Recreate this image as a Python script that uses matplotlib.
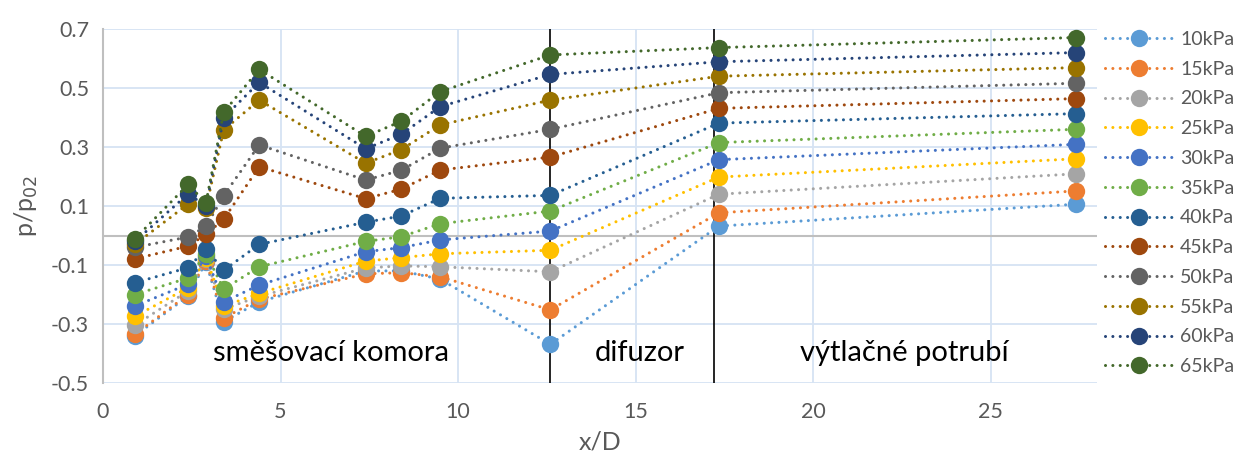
import matplotlib
matplotlib.use("Agg")
import matplotlib.pyplot as plt
import numpy as np

plt.rcParams['font.family'] = ['Lato', 'DejaVu Sans']

# measurement positions along the ejector (x/D)
x_pos = [0.9, 2.4, 2.9, 3.4, 4.4, 7.4, 8.4, 9.5, 12.6, 17.35, 27.4]

labels = ['10kPa', '15kPa', '20kPa', '25kPa', '30kPa', '35kPa',
          '40kPa', '45kPa', '50kPa', '55kPa', '60kPa', '65kPa']

p10 = [-0.34, -0.205, -0.09, -0.292, -0.225, -0.12, -0.12, -0.148, -0.369, 0.032, 0.106]
p15 = [-0.335, -0.200, -0.085, -0.280, -0.216, -0.130, -0.126, -0.140, -0.252, 0.077, 0.151]
p20 = [-0.304, -0.188, -0.080, -0.250, -0.206, -0.110, -0.103, -0.106, -0.123, 0.140, 0.209]
p25 = [-0.274, -0.177, -0.076, -0.240, -0.196, -0.087, -0.075, -0.062, -0.050, 0.198, 0.260]
p30 = [-0.239, -0.165, -0.070, -0.225, -0.168, -0.055, -0.041, -0.015, 0.015, 0.257, 0.309]
p35 = [-0.200, -0.144, -0.062, -0.182, -0.106, -0.020, -0.004, 0.040, 0.083, 0.315, 0.360]
p40 = [-0.160, -0.109, -0.046, -0.118, -0.030, 0.045, 0.066, 0.126, 0.136, 0.381, 0.413]
p45 = [-0.079, -0.036, 0.004, 0.055, 0.233, 0.125, 0.157, 0.222, 0.266, 0.431, 0.464]
p50 = [-0.040, -0.005, 0.031, 0.135, 0.307, 0.188, 0.221, 0.296, 0.360, 0.484, 0.516]
p55 = [-0.030, 0.107, 0.094, 0.358, 0.459, 0.245, 0.291, 0.375, 0.459, 0.540, 0.569]
p60 = [-0.020, 0.141, 0.100, 0.400, 0.519, 0.294, 0.343, 0.437, 0.546, 0.589, 0.620]
p65 = [-0.011, 0.173, 0.110, 0.418, 0.563, 0.336, 0.387, 0.488, 0.612, 0.637, 0.671]

series = [p10, p15, p20, p25, p30, p35, p40, p45, p50, p55, p60, p65]

colors = ['#5B9BD5', '#ED7D31', '#A5A5A5', '#FFC000', '#4472C4', '#70AD47',
          '#255E91', '#9E480E', '#636363', '#997300', '#264478', '#43682B']

# section boundaries and section names
boundaries = [12.6, 17.22]
sections = [(6.42, 'směšovací komora'), (15.13, 'difuzor'), (22.56, 'výtlačné potrubí')]

fig = plt.figure(figsize=(12.37, 4.58), dpi=100)
ax = fig.add_axes([103 / 1237, 1 - 383 / 458, (1097 - 103) / 1237, (383 - 29) / 458])

grid_c = '#D6E3F3'
for yv in np.arange(-0.5, 0.71, 0.2):
    ax.axhline(yv, color=grid_c, lw=1.3, zorder=0)
for xv in [5, 10, 15, 20, 25]:
    ax.axvline(xv, color=grid_c, lw=1.3, zorder=0)
ax.axhline(0, color='#BFBFBF', lw=1.5, zorder=1)

for b in boundaries:
    ax.axvline(b, color='black', lw=1.2, zorder=1)

for vals, lab, c in zip(series, labels, colors):
    ax.plot(x_pos, vals, color=c, lw=2.2, linestyle=(0, (0.01, 2.4)),
            dash_capstyle='round', marker='o', markersize=12.5,
            markeredgewidth=0, label=lab, zorder=3)

for xc, txt in sections:
    ax.text(xc, -0.398, txt, ha='center', va='center', fontsize=21, color='black', zorder=4)

ax.set_xlim(0, 28)
ax.set_ylim(-0.5, 0.7)
ax.set_xticks([0, 5, 10, 15, 20, 25])
ax.set_yticks([-0.5, -0.3, -0.1, 0.1, 0.3, 0.5, 0.7])
ax.set_yticklabels(['-0.5', '-0.3', '-0.1', '0.1', '0.3', '0.5', '0.7'])
ax.tick_params(axis='both', length=0, labelsize=15.5, colors='#595959', pad=10)
ax.tick_params(axis='x', pad=14)

for s in ['top', 'right', 'bottom']:
    ax.spines[s].set_visible(False)
ax.spines['left'].set_color('#BFBFBF')
ax.spines['left'].set_linewidth(1.5)

ax.set_xlabel('x/D', fontsize=18, color='#595959', labelpad=6)
ax.set_ylabel('p/p$_{02}$', fontsize=18, color='#595959', labelpad=8)

leg = fig.legend(loc='upper left', bbox_to_anchor=(1105 / 1237, 1 - 31 / 458),
                 frameon=False, fontsize=14, handlelength=3.45, handletextpad=0.42,
                 labelspacing=0.655, numpoints=1, borderaxespad=0, borderpad=0)
for t in leg.get_texts():
    t.set_color('#595959')

fig.savefig('out.png', dpi=100)
